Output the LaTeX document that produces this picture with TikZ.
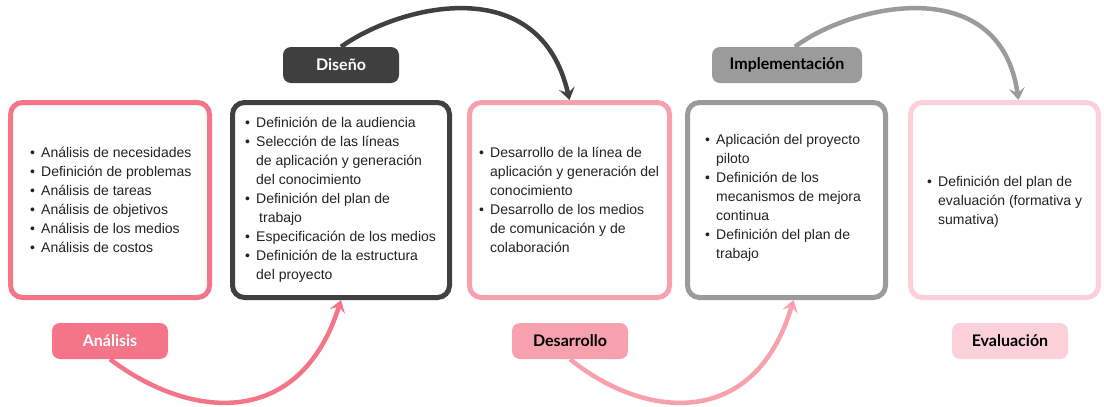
\documentclass[tikz,border=0pt]{standalone}
\usepackage{fontspec}
\setmainfont{Liberation Sans}
\newfontfamily\labelfont{Lato}
\usetikzlibrary{arrows.meta}
\definecolor{cA}{HTML}{F47488}
\definecolor{cD}{HTML}{404040}
\definecolor{cR}{HTML}{F7A1AE}
\definecolor{cI}{HTML}{9B9B9B}
\definecolor{cE}{HTML}{FCD0D8}
\definecolor{txt}{HTML}{222222}
\newcommand{\bul}{\makebox[11pt][l]{\textbullet}}
\newcommand{\ind}{\hspace*{11pt}}
\begin{document}
\begin{tikzpicture}[x=1pt,y=-1pt,
  box/.style={draw, line width=5pt, rounded corners=12pt, fill=white},
  lbl/.style={rounded corners=8pt, minimum width=116pt, minimum height=36pt, inner sep=0pt, font=\labelfont\bfseries\fontsize{16}{18}\selectfont},
  body/.style={anchor=west, align=left, inner sep=0pt, text=txt, font=\fontsize{14}{19}\selectfont},
  conn/.style={line width=4.5pt, -{Stealth[length=12pt,width=16pt,inset=5pt]}}
]
\useasboundingbox (0,0) rectangle (1104,407);
% boxes
\node[box, draw=cA, minimum width=199pt, minimum height=195pt] (b1) at (110,200) {};
\node[box, draw=cD, minimum width=217pt, minimum height=195pt] (b2) at (341,200) {};
\node[box, draw=cR, minimum width=200pt, minimum height=195pt] (b3) at (569.5,200) {};
\node[box, draw=cI, minimum width=198pt, minimum height=195pt] (b4) at (786.5,200) {};
\node[box, draw=cE, minimum width=188pt, minimum height=195pt] (b5) at (1004.5,200) {};
% texts
\node[body] (t1) at (30,200) {\bul Análisis de necesidades\\ \bul Definición de problemas\\ \bul Análisis de tareas\\ \bul Análisis de objetivos\\ \bul Análisis de los medios\\ \bul Análisis de costos};
\node[body] (t2) at (245,200) {\bul Definición de la audiencia\\ \bul Selección de las líneas\\ \ind de aplicación y generación\\ \ind del conocimiento\\ \bul Definición del plan de\\ \ind\hspace*{3pt}trabajo\\ \bul Especificación de los medios\\ \bul Definición de la estructura\\ \ind del proyecto};
\node[body] (t3) at (479,200) {\bul Desarrollo de la línea de\\ \ind aplicación y generación del\\ \ind conocimiento\\ \bul Desarrollo de los medios\\ \ind de comunicación y de\\ \ind colaboración};
\node[body] (t4) at (705,198) {\bul Aplicación del proyecto\\ \ind piloto\\ \bul Definición de los\\ \ind mecanismos de mejora\\ \ind continua\\ \bul Definición del plan de\\ \ind trabajo};
\node[body] (t5) at (927,202) {\bul Definición del plan de\\ \ind evaluación (formativa y\\ \ind sumativa)};
% labels
\node[lbl, fill=cA, text=white] (la) at (110,341) {Análisis};
\node[lbl, fill=cD, text=white] (ld) at (341,65) {Diseño};
\node[lbl, fill=cR, text=black] (lr) at (570,341) {Desarrollo};
\node[lbl, fill=cI, text=black, minimum width=150pt] (li) at (787,65) {Implementación};
\node[lbl, fill=cE, text=black] (le) at (1010,341) {Evaluación};
% connectors
\draw[conn, draw=cA] (la.south) .. controls (190,420) and (300,430) .. (b2.south);
\draw[conn, draw=cD] (ld.north) .. controls (400,5) and (540,-30) .. (b3.north);
\draw[conn, draw=cR] (lr.south) .. controls (645,420) and (755,430) .. ([xshift=7pt]b4.south);
\draw[conn, draw=cI] ([xshift=8pt]li.north) .. controls (850,5) and (1000,-30) .. ([xshift=14pt]b5.north);
\end{tikzpicture}
\end{document}
